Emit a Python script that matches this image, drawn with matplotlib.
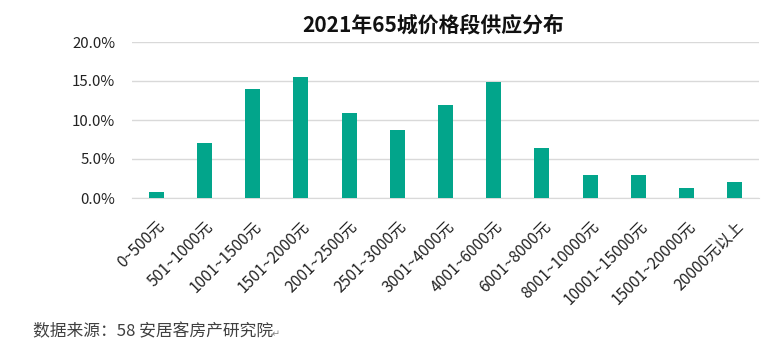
import matplotlib
matplotlib.use("Agg")
import matplotlib.pyplot as plt
from matplotlib.ticker import FuncFormatter

plt.rcParams['font.family'] = ['Noto Sans CJK SC', 'DejaVu Sans']

categories = ["0~500元", "501~1000元", "1001~1500元", "1501~2000元", "2001~2500元",
              "2501~3000元", "3001~4000元", "4001~6000元", "6001~8000元", "8001~10000元",
              "10001~15000元", "15001~20000元", "20000元以上"]
values = [0.8, 7.1, 14.0, 15.55, 10.9, 8.75, 11.95, 14.9, 6.45, 3.0, 3.0, 1.3, 2.1]
yticks = [0, 5, 10, 15, 20]

fig = plt.figure(figsize=(7.7, 3.52), dpi=100)
ax = fig.add_axes([132/770, 1-198/352, (759-132)/770, (198-42)/352])

x = list(range(len(categories)))
ax.bar(x, values, width=0.31, color="#02A58B", zorder=3)
ax.set_xlim(-0.5, len(categories)-0.5)
ax.set_ylim(0, 20)
ax.set_yticks(yticks)
ax.yaxis.set_major_formatter(FuncFormatter(lambda v, p: f"{v:.1f}%"))
ax.grid(axis='y', color="#D9D9D9", linewidth=1, zorder=0)
for s in ['top', 'right', 'left']:
    ax.spines[s].set_visible(False)
ax.spines['bottom'].set_color("#D9D9D9")
ax.tick_params(axis='both', length=0, labelsize=10.8, colors="#222222")
ax.tick_params(axis='y', pad=12)
ax.set_xticks(x)
ax.set_xticklabels(categories, rotation=45, ha='right', rotation_mode='anchor',
                   fontsize=11.3)
ax.tick_params(axis='x', pad=14)

fig.text(433/770, 1-25/352, "2021年65城价格段供应分布", ha='center', va='center',
         fontsize=15, fontweight='bold', color="#111111")
fig.text(33/770, 1-332/352, "数据来源：58 安居客房产研究院", ha='left', va='center',
         fontsize=12.1, color="#404040")
fig.text(272/770, 1-334/352, "↵", ha='left', va='center', fontsize=7, color="#888888",
         family=['DejaVu Sans'])

fig.savefig("out.png", dpi=100)
